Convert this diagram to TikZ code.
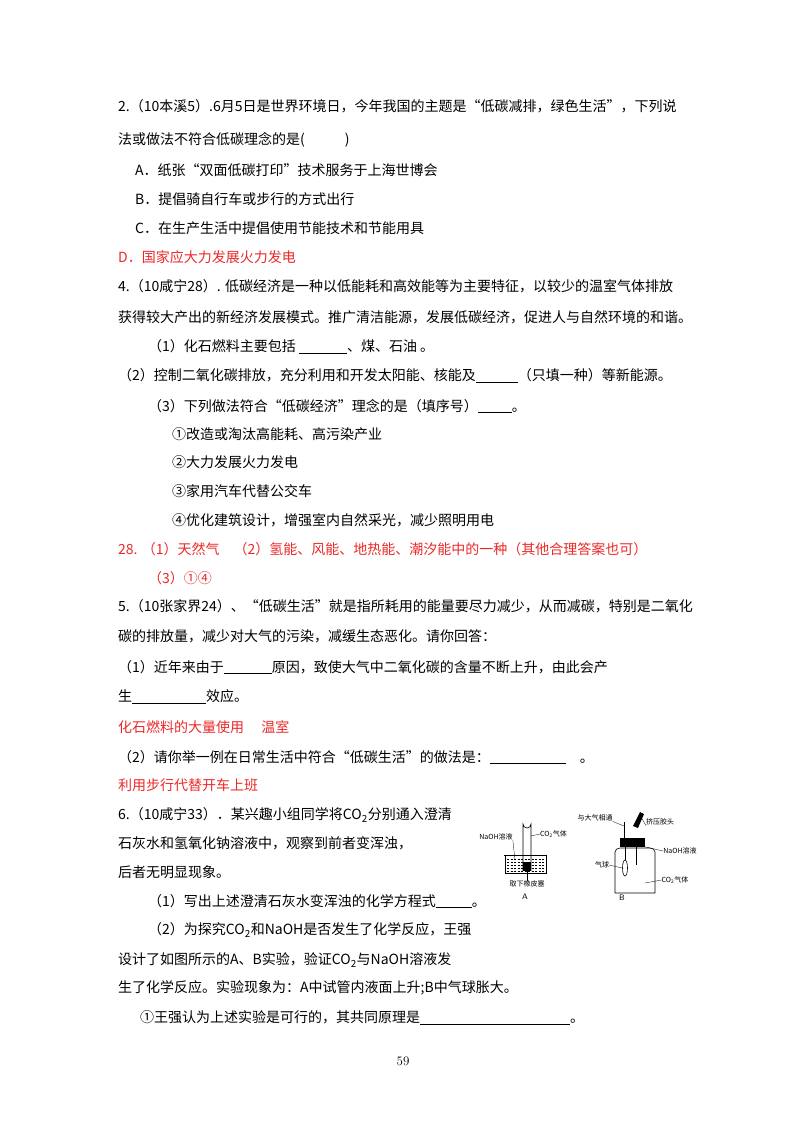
\documentclass[tikz,border=0pt]{standalone}
\usepackage{fontspec}
\newfontfamily\cjk{Noto Sans CJK SC}
\definecolor{ans}{RGB}{235,40,40}
\newcommand{\ul}[1]{\rule[-2bp]{#1bp}{0.6bp}}
\begin{document}
\begin{tikzpicture}[x=1bp,y=-1bp,
  t/.style={anchor=west,inner sep=0pt,font=\cjk\fontsize{14bp}{16bp}\selectfont},
  r/.style={t,text=ans},
  s/.style={inner sep=0pt,font=\cjk\fontsize{7bp}{8bp}\selectfont},
  ln/.style={line width=0.6bp}]
\useasboundingbox (0,0) rectangle (800,1132);
\node[t] (l1) at (118,106) {2.（10本溪5）.6月5日是世界环境日，今年我国的主题是“低碳减排，绿色生活”，下列说};
\node[t] (l2) at (118,140) {法或做法不符合低碳理念的是(\hspace{40bp})};
\node[t] (l3) at (135,170) {A．纸张“双面低碳打印”技术服务于上海世博会};
\node[t] (l4) at (135,199) {B．提倡骑自行车或步行的方式出行};
\node[t] (l5) at (135,228) {C．在生产生活中提倡使用节能技术和节能用具};
\node[r] (l6) at (118,257) {D．国家应大力发展火力发电};
\node[t] (l7) at (118,286) {4.（10咸宁28）. 低碳经济是一种以低能耗和高效能等为主要特征，以较少的温室气体排放};
\node[t] (l8) at (118,317) {获得较大产出的新经济发展模式。推广清洁能源，发展低碳经济，促进人与自然环境的和谐。};
\node[t] (l9) at (148,347) {（1）化石燃料主要包括 \ul{48}、煤、石油 。};
\node[t] (l10) at (118,376) {（2）控制二氧化碳排放，充分利用和开发太阳能、核能及\ul{42}（只填一种）等新能源。};
\node[t] (l11) at (148,406) {（3）下列做法符合“低碳经济”理念的是（填序号）\ul{34}。};
\node[t] (l12) at (172,434) {①改造或淘汰高能耗、高污染产业};
\node[t] (l13) at (172,462) {②大力发展火力发电};
\node[t] (l14) at (172,491) {③家用汽车代替公交车};
\node[t] (l15) at (172,520) {④优化建筑设计，增强室内自然采光，减少照明用电};
\node[r] (l16) at (118,549) {28. （1）天然气\quad（2）氢能、风能、地热能、潮汐能中的一种（其他合理答案也可）};
\node[r] (l17) at (148,578) {（3）①④};
\node[t] (l18) at (118,606) {5.（10张家界24）、“低碳生活”就是指所耗用的能量要尽力减少，从而减碳，特别是二氧化};
\node[t] (l19) at (118,636) {碳的排放量，减少对大气的污染，减缓生态恶化。请你回答：};
\node[t] (l20) at (118,667) {（1）近年来由于\ul{48}原因，致使大气中二氧化碳的含量不断上升，由此会产};
\node[t] (l21) at (118,697) {生\ul{74}效应。};
\node[r] (l22) at (118,727) {化石燃料的大量使用\quad\ 温室};
\node[t] (l23) at (118,757) {（2）请你举一例在日常生活中符合“低碳生活”的做法是：\ul{76}\quad 。};
\node[r] (l24) at (118,785) {利用步行代替开车上班};
\node[t] (l25) at (118,815) {6.（10咸宁33）．某兴趣小组同学将CO\textsubscript{2}分别通入澄清};
\node[t] (l26) at (118,843) {石灰水和氢氧化钠溶液中，观察到前者变浑浊，};
\node[t] (l27) at (118,872) {后者无明显现象。};
\node[t] (l28) at (148,901) {（1）写出上述澄清石灰水变浑浊的化学方程式\ul{36}。};
\node[t] (l29) at (148,930) {（2）为探究CO\textsubscript{2}和NaOH是否发生了化学反应，王强};
\node[t] (l30) at (118,960) {设计了如图所示的A、B实验，验证CO\textsubscript{2}与NaOH溶液发};
\node[t] (l31) at (118,988) {生了化学反应。实验现象为：A中试管内液面上升;B中气球胀大。};
\node[t] (l32) at (140,1018) {①王强认为上述实验是可行的，其共同原理是\ul{150}。};
\node[inner sep=0pt,font=\fontsize{13bp}{14bp}\selectfont] (pg) at (403,1061) {59};
% figure A
\draw[ln] (505,855) -- (505,873) -- (546,873) -- (546,855);
\draw[ln] (504,855) -- (547,855);
\foreach \yy in {859,862,865,868,871} \draw[line width=0.3bp,dashed,dash pattern=on 2bp off 1.5bp] (507,\yy) -- (544,\yy);
\draw[ln] (523,871) -- (523,824) arc[start angle=180,end angle=0,radius=4] -- (531,871);
\fill (523,862) rectangle (531,871);
\node[s] (a1) at (496,837) {NaOH溶液};
\node[s,anchor=west] (a2) at (540,834) {CO\textsubscript{2}气体};
\draw[line width=0.3bp] (a1.south east) -- (515,860);
\draw[line width=0.3bp] (a2.west) -- (531,836);
\node[s] (a3) at (527,884) {取下橡皮塞};
\draw[line width=0.3bp] (527,870) -- (a3.north);
\node[s,font=\sffamily\fontsize{8bp}{9bp}\selectfont] (A) at (525,897) {A};
% figure B
\draw[ln] (615,893) -- (615,852) to[out=90,in=180] (620,848) -- (650,848) to[out=0,in=90] (655,852) -- (655,893) -- (615,893);
\fill (620,838) rectangle (645,847);
\draw[ln] (624,838) -- (624,822);
\fill (633,826) -- (640,812) -- (644,814) -- (638,828) -- cycle;
\draw[ln] (636,840) -- (636,865);
\draw[ln] (625,846) -- (625,860);
\draw[ln] (625,868) ellipse (2.5 and 8);
\node[s] (b1) at (595,818) {与大气相通};
\node[s] (b2) at (660,822) {挤压胶头};
\node[s] (b3) at (680,851) {NaOH溶液};
\node[s] (b4) at (602,865) {气球};
\node[s] (b5) at (675,880) {CO\textsubscript{2}气体};
\draw[line width=0.3bp] (b1.south east) -- (624,826);
\draw[line width=0.3bp] (b2.south west) -- (641,817);
\draw[line width=0.3bp] (b3.west) -- (637,845);
\draw[line width=0.3bp] (b4.east) -- (622,868);
\draw[line width=0.3bp] (b5.west) -- (645,883);
\node[s,font=\sffamily\fontsize{8bp}{9bp}\selectfont] (B) at (622,898) {B};
\end{tikzpicture}
\end{document}
